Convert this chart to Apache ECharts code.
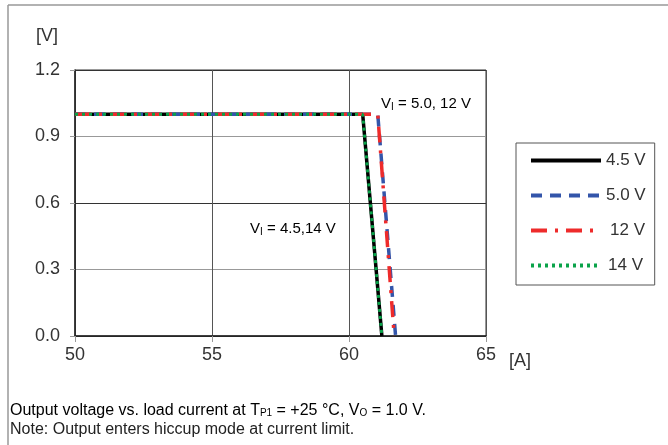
<!DOCTYPE html>
<html><head><meta charset="utf-8">
<script src="https://cdn.jsdelivr.net/npm/echarts@6/dist/echarts.min.js"></script>
<style>html,body{margin:0;padding:0;background:#fff}#c{width:668px;height:445px}</style>
</head><body><div id="c"></div>
<script>
// Data (load current [A], output voltage [V])
const seriesNames = ['4.5 V', '5.0 V', '12 V', '14 V'];
const v45 = [[50, 1.0], [60.5, 1.0], [61.2, 0.0]];
const v50 = [[50, 1.0], [61.05, 1.0], [61.7, 0.0]];
const v12 = [[50, 1.0], [61.05, 1.0], [61.65, 0.0]];
const v14 = [[50, 1.0], [60.5, 1.0], [61.2, 0.0]];
const xTicks = [50, 55, 60, 65];
const yTicks = [0.0, 0.3, 0.6, 0.9, 1.2];

const FONT = 'Liberation Sans, Arial, sans-serif';
const chart = echarts.init(document.getElementById('c'), null, {renderer: 'canvas'});
const sub = {fontSize: 10, fontFamily: FONT, color: '#222', padding: [7, 0, 0, 0]};
const base = {fontSize: 15, fontFamily: FONT, color: '#222'};
chart.setOption({
  animation: false,
  backgroundColor: '#fff',
  textStyle: {fontFamily: FONT},
  grid: {left: 75, right: 182, top: 70, bottom: 109, show: true, borderColor: '#333', borderWidth: 1, containLabel: false},
  xAxis: {
    type: 'value', min: xTicks[0], max: xTicks[xTicks.length - 1], interval: 5,
    axisLine: {lineStyle: {color: '#222', width: 1.5}},
    axisTick: {show: true, length: 6, lineStyle: {color: '#999'}},
    axisLabel: {fontSize: 18, color: '#333', margin: 10, fontFamily: FONT},
    splitLine: {show: true, lineStyle: {color: '#555', width: 1}},
    name: '[A]', nameLocation: 'end', nameGap: 23,
    nameTextStyle: {fontSize: 18, color: '#333', verticalAlign: 'top', padding: [16, 0, 0, 0], fontFamily: FONT}
  },
  yAxis: {
    type: 'value', min: yTicks[0], max: yTicks[yTicks.length - 1], interval: 0.3,
    axisLine: {show: true, lineStyle: {color: '#222', width: 1.5}},
    axisTick: {show: true, length: 5, lineStyle: {color: '#999'}},
    axisLabel: {fontSize: 18, color: '#333', margin: 15, fontFamily: FONT, formatter: v => v.toFixed(1)},
    splitLine: {show: true, lineStyle: {color: ['#333', '#999'], width: 1}},
    name: '[V]', nameLocation: 'end', nameGap: 25,
    nameTextStyle: {fontSize: 18, color: '#333', align: 'right', padding: [0, 17, 0, 0], fontFamily: FONT}
  },
  legend: {
    orient: 'vertical', left: 516, top: 143,
    padding: [9, 9, 11, 13], itemGap: 18, itemWidth: 70, itemHeight: 14,
    borderColor: '#555', borderWidth: 1,
    itemStyle: {opacity: 0},
    lineStyle: {width: 4},
    textStyle: {fontSize: 17, color: '#333', fontFamily: FONT, rich: {p: {fontSize: 17, color: '#333', fontFamily: FONT, padding: [0, 0, 0, 4]}, q: {fontSize: 17, color: '#333', fontFamily: FONT, padding: [0, 0, 0, 2]}}},
    formatter: n => n === '12 V' ? '{p|' + n + '}' : (n === '14 V' ? '{q|' + n + '}' : n),
    data: seriesNames
  },
  series: [
    {name: seriesNames[0], type: 'line', data: v45, symbol: 'none', z: 2,
     lineStyle: {color: '#000', width: 3.5}, itemStyle: {color: '#000'}},
    {name: seriesNames[1], type: 'line', data: v50, symbol: 'none', z: 3,
     lineStyle: {color: '#3355aa', width: 3.5, type: [11, 8]}, itemStyle: {color: '#3355aa'}},
    {name: seriesNames[2], type: 'line', data: v12, symbol: 'none', z: 4,
     lineStyle: {color: '#ee2b2b', width: 3.5, type: [16, 8, 3, 8]}, itemStyle: {color: '#ee2b2b'}},
    {name: seriesNames[3], type: 'line', data: v14, symbol: 'none', z: 5,
     lineStyle: {color: '#0aa34a', width: 3, type: [3, 4]}, itemStyle: {color: '#0aa34a'}}
  ],
  graphic: [
    {type: 'line', shape: {x1: 8, y1: 5, x2: 668, y2: 5}, style: {stroke: '#999', lineWidth: 1.5}, silent: true},
    {type: 'line', shape: {x1: 8, y1: 5, x2: 8, y2: 445}, style: {stroke: '#999', lineWidth: 1.5}, silent: true},
    {type: 'text', left: 381, top: 96, silent: true, z: 10,
     style: {text: '{a|V}{s|I}{a| = 5.0, 12 V}', rich: {a: base, s: sub}}},
    {type: 'text', left: 250, top: 221, silent: true, z: 10,
     style: {text: '{a|V}{s|I}{a| = 4.5,14 V}', rich: {a: base, s: sub}}},
    {type: 'text', left: 10, top: 403, silent: true,
     style: {text: '{a|Output voltage vs. load current at T}{s|P1}{a| = +25 °C, V}{s|O}{a| = 1.0 V.}',
             rich: {a: {fontSize: 16, fontFamily: FONT, color: '#222'}, s: {fontSize: 10, fontFamily: FONT, color: '#222', padding: [4, 0, 0, 0]}}}},
    {type: 'text', left: 10, top: 422, silent: true,
     style: {text: 'Note: Output enters hiccup mode at current limit.', fontSize: 16, fontFamily: FONT, fill: '#222'}}
  ]
});
</script></body></html>
